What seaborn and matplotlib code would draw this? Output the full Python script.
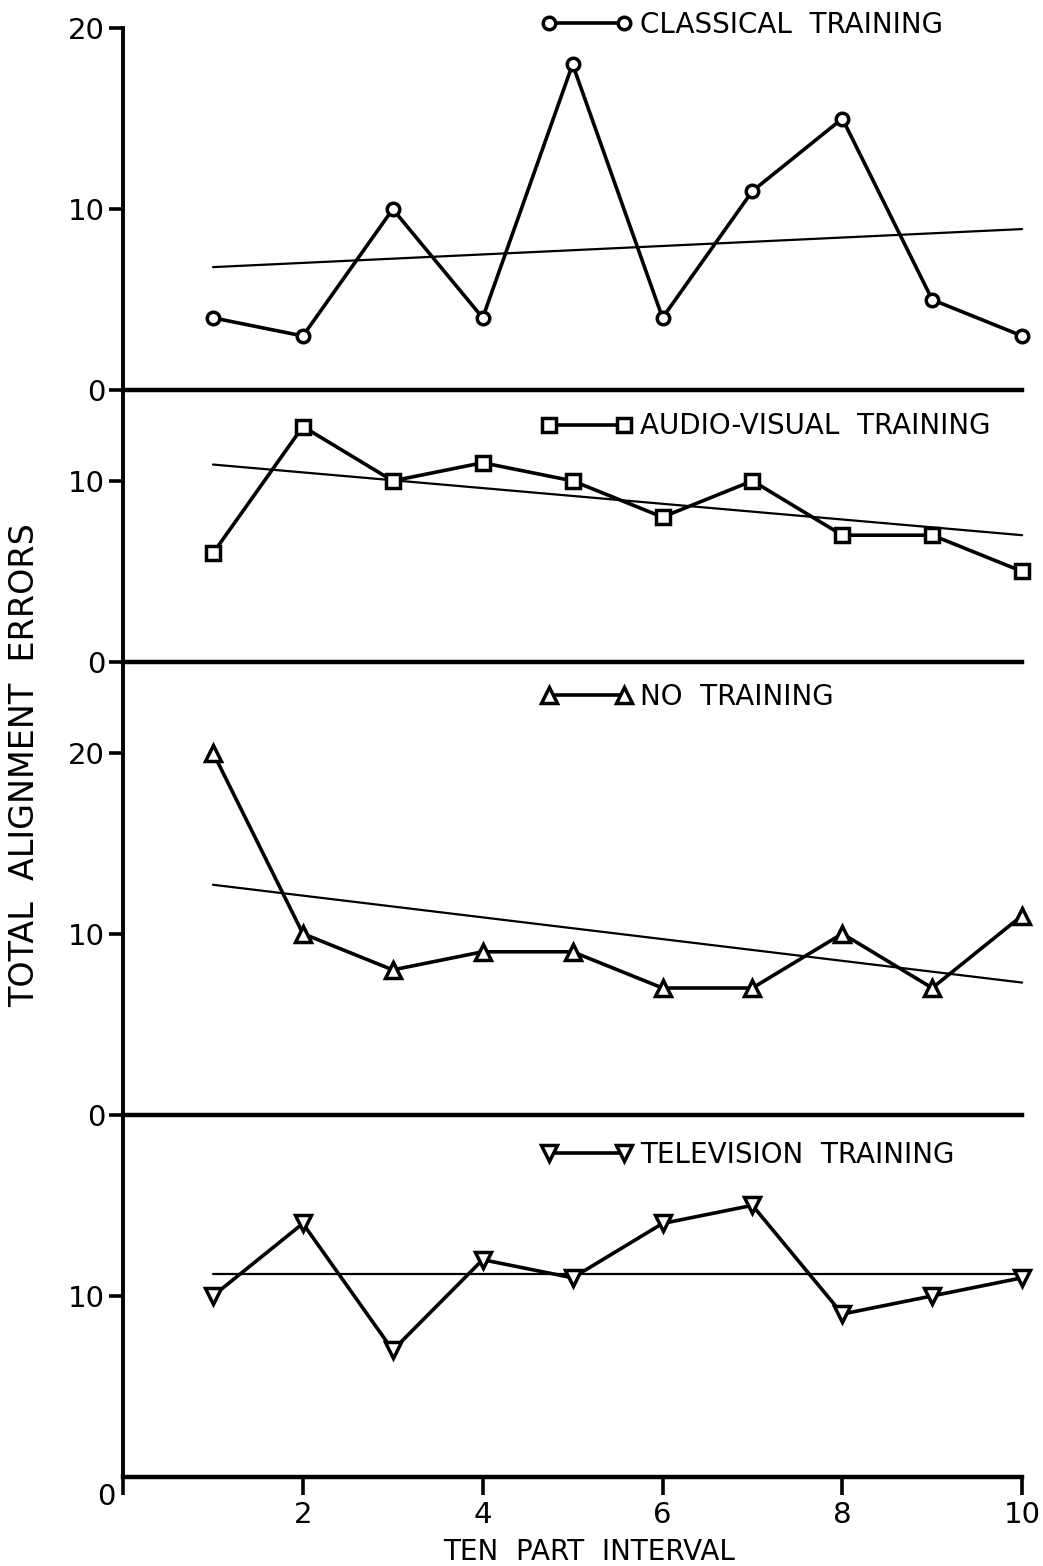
import matplotlib
matplotlib.use("Agg")
import matplotlib.pyplot as plt
import pandas as pd
import seaborn as sns

# Values
interval = [1, 2, 3, 4, 5, 6, 7, 8, 9, 10]
classical = [4, 3, 10, 4, 18, 4, 11, 15, 5, 3]
audio_visual = [6, 13, 10, 11, 10, 8, 10, 7, 7, 5]
no_training = [20, 10, 8, 9, 9, 7, 7, 10, 7, 11]
television = [10, 14, 7, 12, 11, 14, 15, 9, 10, 11]

# Trend lines (end points at interval 1 and 10)
trend_x = [1, 10]
classical_trend = [6.8, 8.9]
audio_visual_trend = [10.9, 7.0]
no_training_trend = [12.7, 7.3]
television_trend = [11.2, 11.2]

labels = ["CLASSICAL  TRAINING", "AUDIO-VISUAL  TRAINING", "NO  TRAINING", "TELEVISION  TRAINING"]
markers = ["o", "s", "^", "v"]
marker_sizes = [9, 10, 12, 12]
y_max = [20, 15, 25, 20]
y_ticks = [[0, 10, 20], [0, 10], [0, 10, 20], [10]]
x_ticks = [0, 2, 4, 6, 8, 10]
x_tick_labels = ["", "2", "4", "6", "8", "10"]

series = [classical, audio_visual, no_training, television]
trends = [classical_trend, audio_visual_trend, no_training_trend, television_trend]

sns.set_theme(style="ticks")
plt.rcParams["font.family"] = ["DejaVu Sans"]

fig = plt.figure(figsize=(10.43, 15.66), dpi=100)
gs = fig.add_gridspec(4, 1, height_ratios=y_max, hspace=0,
                      left=0.118, right=0.98, bottom=0.0568, top=0.9821)
axes = [fig.add_subplot(gs[i]) for i in range(4)]

legend_y = [1.008, 0.867, 0.923, 0.89]

for i, ax in enumerate(axes):
    df = pd.DataFrame({"interval": interval, "errors": series[i]})
    sns.lineplot(data=df, x="interval", y="errors", ax=ax, color="black",
                 linewidth=2.6, marker=markers[i], markersize=marker_sizes[i],
                 markerfacecolor="white", markeredgecolor="black",
                 markeredgewidth=2.5, label=labels[i], clip_on=False, zorder=3)
    tdf = pd.DataFrame({"interval": trend_x, "errors": trends[i]})
    sns.lineplot(data=tdf, x="interval", y="errors", ax=ax, color="black",
                 linewidth=1.6, clip_on=False, zorder=2)

    ax.set_xlim(0, 10)
    ax.set_ylim(0, y_max[i])
    ax.set_yticks(y_ticks[i])
    ax.set_facecolor("none")
    ax.set_xlabel("")
    ax.set_ylabel("")
    for s in ["top", "right"]:
        ax.spines[s].set_visible(False)
    ax.spines["left"].set_linewidth(2.8)
    ax.spines["bottom"].set_linewidth(3.2)
    ax.spines["left"].set_color("black")
    ax.spines["bottom"].set_color("black")
    ax.tick_params(axis="y", length=10, width=2.6, pad=3, labelsize=21,
                   colors="black")
    ax.set_xticks(x_ticks)
    if i < 3:
        ax.tick_params(axis="x", bottom=False, labelbottom=False)
    else:
        ax.set_xticklabels(x_tick_labels)
        ax.tick_params(axis="x", length=13, width=2.6, pad=4, labelsize=21,
                       colors="black")

    leg = ax.legend(loc="center left", bbox_to_anchor=(0.464, legend_y[i]),
                    frameon=False, numpoints=2, handlelength=3.3,
                    handletextpad=0.3, borderpad=0, borderaxespad=0,
                    fontsize=20)
    for t in leg.get_texts():
        t.set_color("black")

# origin label at the lower left corner
axes[3].text(-0.019, -0.055, "0", transform=axes[3].transAxes, fontsize=21,
             ha="center", va="center", color="black")

fig.text(0.024, 1 - 765 / 1566, "TOTAL  ALIGNMENT  ERRORS", rotation=90,
         ha="center", va="center", fontsize=24, color="black")
fig.text(0.565, 1 - 1552 / 1566, "TEN  PART  INTERVAL", ha="center",
         va="center", fontsize=20, color="black")

fig.savefig("out.png", dpi=100, facecolor="white")
